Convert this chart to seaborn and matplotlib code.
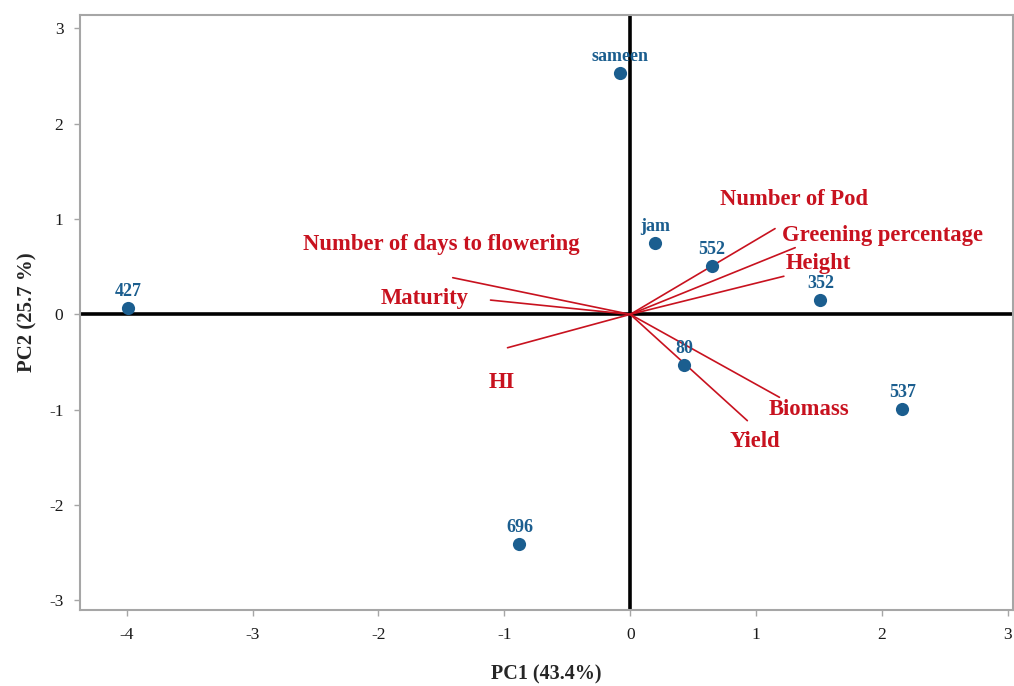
import matplotlib
matplotlib.use("Agg")
import matplotlib.pyplot as plt
import seaborn as sns
import pandas as pd

# genotype scores
genotypes = ["sameen", "jam", "552", "352", "427", "80", "537", "696"]
pc1_scores = [-0.08, 0.20, 0.65, 1.51, -3.99, 0.43, 2.16, -0.88]
pc2_scores = [2.53, 0.75, 0.51, 0.15, 0.07, -0.53, -0.99, -2.41]

# trait loadings (arrow ends)
traits = ["Number of Pod", "Greening percentage", "Height",
          "Number of days to flowering", "Maturity", "HI", "Biomass", "Yield"]
load_pc1 = [1.15, 1.31, 1.22, -1.41, -1.11, -0.975, 1.185, 0.93]
load_pc2 = [0.90, 0.70, 0.40, 0.385, 0.15, -0.35, -0.87, -1.115]
# where the trait names sit
label_pc1 = [1.30, 2.00, 1.49, -1.50, -1.63, -1.02, 1.42, 0.99]
label_pc2 = [1.21, 0.83, 0.53, 0.73, 0.17, -0.71, -1.00, -1.33]

scores = pd.DataFrame({"PC1": pc1_scores, "PC2": pc2_scores, "genotype": genotypes})

sns.set_style("white")
plt.rcParams["font.family"] = ["Liberation Serif", "DejaVu Serif"]
plt.rcParams["axes.unicode_minus"] = False

blue = "#1b5e8f"
red = "#c8121f"
grey = "#a6a6a6"

fig = plt.figure(figsize=(10.14, 6.86), dpi=100)
ax = fig.add_axes([0.079, 0.111, 0.92, 0.867])

ax.axhline(0, color="black", lw=2.6, zorder=1)
ax.axvline(0, color="black", lw=2.6, zorder=1)

for i in range(len(traits)):
    ax.plot([0, load_pc1[i]], [0, load_pc2[i]], color=red, lw=1.2, zorder=2)
    ax.text(label_pc1[i], label_pc2[i], traits[i], color=red, fontsize=16.3,
            fontweight="bold", ha="center", va="center")

sns.scatterplot(data=scores, x="PC1", y="PC2", ax=ax, color=blue, s=90,
                edgecolor=blue, linewidth=0, zorder=3)

for i in range(len(genotypes)):
    ax.annotate(genotypes[i], (pc1_scores[i], pc2_scores[i]),
                xytext=(0, 12), textcoords="offset points", ha="center",
                va="center", color=blue, fontsize=13, fontweight="bold")

ax.set_xlim(-4.37, 3.04)
ax.set_ylim(-3.1, 3.14)
ax.set_xticks([-4, -3, -2, -1, 0, 1, 2, 3])
ax.set_yticks([-3, -2, -1, 0, 1, 2, 3])

for side in ["left", "bottom", "top", "right"]:
    ax.spines[side].set_color(grey)
    ax.spines[side].set_linewidth(1.5)

ax.tick_params(axis="both", which="both", direction="out", length=4, width=1,
               color=grey, labelsize=12.5, labelcolor="#1a1a1a", pad=8,
               left=True, bottom=True)

ax.set_xlabel("PC1 (43.4%)", fontsize=14.5, fontweight="bold", labelpad=16)
ax.set_ylabel("PC2 (25.7 %)", fontsize=15, fontweight="bold", labelpad=8)

plt.savefig("out.png", dpi=100)
